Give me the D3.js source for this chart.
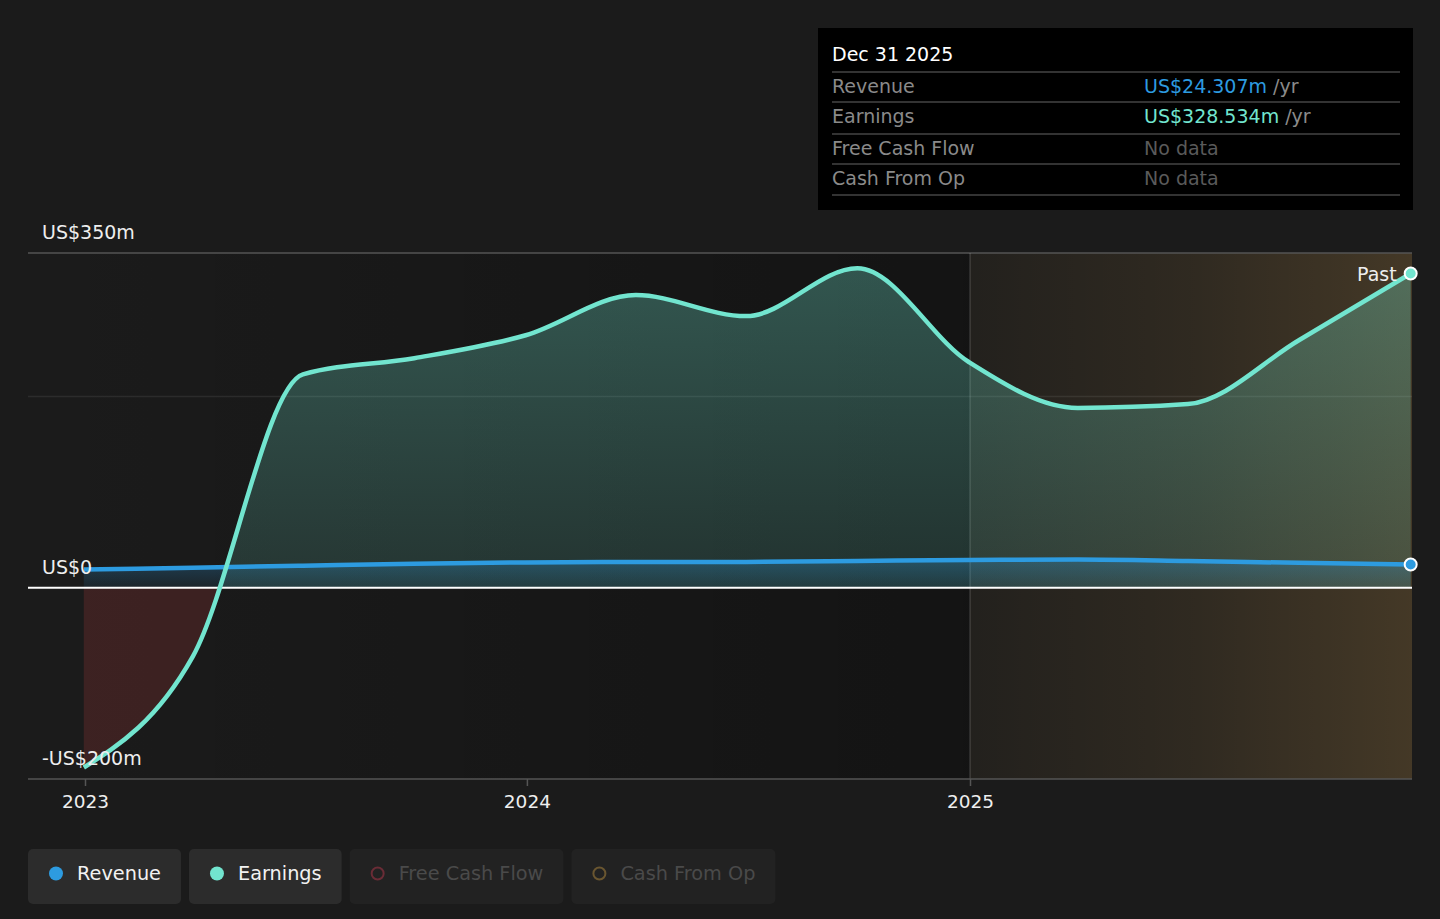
<!DOCTYPE html>
<html>
<head>
<meta charset="utf-8">
<script src="https://cdn.jsdelivr.net/npm/d3@7"></script>
<style>
  html, body { margin: 0; padding: 0; background: #1b1b1b; }
  svg { display: block; font-family: "DejaVu Sans", sans-serif; }
</style>
</head>
<body>
<svg id="chart" width="1440" height="919"></svg>
<script>
// quarterly figures, US$ millions
const dates = ["2022-12-31", "2023-03-31", "2023-06-30", "2023-09-30", "2023-12-31",
  "2024-03-31", "2024-06-30", "2024-09-30", "2024-12-31",
  "2025-03-31", "2025-06-30", "2025-09-30", "2025-12-31"];
const earnings = [-188, -72, 223, 240, 264, 306, 284, 334, 236, 188, 192, 259, 328.534];
const revenue = [19, 21, 23, 25, 26.5, 27, 27, 28, 29, 29.5, 28, 26, 24.307];
const yTicks = [350, 0, -200];
const yTickLabels = ["US$350m", "US$0", "-US$200m"];
const xTicks = ["2023-01-01", "2024-01-01", "2025-01-01"];
const tipRows = [
  {label: "Revenue", value: "US$24.307m", unit: " /yr", color: "#2d9be0"},
  {label: "Earnings", value: "US$328.534m", unit: " /yr", color: "#72e5cf"},
  {label: "Free Cash Flow", value: "No data", unit: "", color: "#5a5a5a"},
  {label: "Cash From Op", value: "No data", unit: "", color: "#5a5a5a"}
];
const legendItems = [
  {name: "Revenue", color: "#2d9be0", on: true},
  {name: "Earnings", color: "#72e5cf", on: true},
  {name: "Free Cash Flow", color: "#6a2c36", on: false},
  {name: "Cash From Op", color: "#6a5630", on: false}
];

const parse = d3.timeParse("%Y-%m-%d");
const data = dates.map((d, i) => ({date: parse(d), earn: earnings[i], rev: revenue[i]}));

const svg = d3.select("#chart");
const plotLeft = 28, plotRight = 1412, plotTop = 253, plotBottom = 779;

const x = d3.scaleTime()
  .domain([parse("2023-01-01"), parse("2025-01-01")])
  .range([85, 970]);
const y = d3.scaleLinear().domain([-200, 350]).range([plotBottom, plotTop]);
const pastX = x(parse("2025-01-01"));

const defs = svg.append("defs");
const lin = (id, x1, y1, x2, y2, stops) => {
  const g = defs.append("linearGradient").attr("id", id)
    .attr("gradientUnits", "userSpaceOnUse")
    .attr("x1", x1).attr("y1", y1).attr("x2", x2).attr("y2", y2);
  stops.forEach(s => g.append("stop").attr("offset", s[0])
    .attr("stop-color", s[1]).attr("stop-opacity", s[2]));
};
lin("bgLeft", plotLeft, 0, pastX, 0, [[0, "#000", 0], [1, "#000", 0.28]]);
lin("bgPast", pastX, 0, plotRight, 0, [[0, "#ffbe5a", 0.035], [0.5, "#ffbe5a", 0.09], [1, "#ffbe5a", 0.18]]);
lin("earnFill", 0, y(350), 0, y(0), [[0, "#72e5cf", 0.32], [1, "#72e5cf", 0.14]]);
lin("revFill", 0, y(30), 0, y(0), [[0, "#2d9be0", 0.3], [1, "#2d9be0", 0.08]]);

defs.append("clipPath").attr("id", "above")
  .append("rect").attr("x", plotLeft).attr("y", plotTop - 20)
  .attr("width", plotRight - plotLeft).attr("height", y(0) - plotTop + 20);
defs.append("clipPath").attr("id", "below")
  .append("rect").attr("x", plotLeft).attr("y", y(0))
  .attr("width", plotRight - plotLeft).attr("height", plotBottom - y(0));

// backgrounds
svg.append("rect").attr("x", plotLeft).attr("y", plotTop).attr("width", pastX - plotLeft)
  .attr("height", plotBottom - plotTop).attr("fill", "url(#bgLeft)");
svg.append("rect").attr("x", pastX).attr("y", plotTop).attr("width", plotRight - pastX)
  .attr("height", plotBottom - plotTop).attr("fill", "url(#bgPast)");

// grid
svg.append("line").attr("x1", plotLeft).attr("x2", plotRight).attr("y1", y(350)).attr("y2", y(350))
  .attr("stroke", "#555").attr("stroke-width", 1.5);
svg.append("line").attr("x1", plotLeft).attr("x2", plotRight).attr("y1", y(200)).attr("y2", y(200))
  .attr("stroke", "#fff").attr("stroke-opacity", 0.08).attr("stroke-width", 1.5);
svg.append("line").attr("x1", pastX).attr("x2", pastX).attr("y1", plotTop).attr("y2", plotBottom)
  .attr("stroke", "#fff").attr("stroke-opacity", 0.15).attr("stroke-width", 1.5);

// areas
const curve = d3.curveMonotoneX;
const earnArea = d3.area().curve(curve).x(d => x(d.date)).y0(y(0)).y1(d => y(d.earn));
svg.append("path").datum(data).attr("d", earnArea)
  .attr("clip-path", "url(#above)").attr("fill", "url(#earnFill)");
svg.append("path").datum(data).attr("d", earnArea)
  .attr("clip-path", "url(#below)").attr("fill", "#e64a4a").attr("fill-opacity", 0.17);
const revArea = d3.area().curve(curve).x(d => x(d.date)).y0(y(0)).y1(d => y(d.rev));
svg.append("path").datum(data).attr("d", revArea).attr("fill", "url(#revFill)");

// zero and bottom axis lines
svg.append("line").attr("x1", plotLeft).attr("x2", plotRight).attr("y1", y(0)).attr("y2", y(0))
  .attr("stroke", "#fff").attr("stroke-width", 2);
svg.append("line").attr("x1", plotLeft).attr("x2", plotRight).attr("y1", plotBottom).attr("y2", plotBottom)
  .attr("stroke", "#555").attr("stroke-width", 1.5);

// lines
const earnLine = d3.line().curve(curve).x(d => x(d.date)).y(d => y(d.earn));
const revLine = d3.line().curve(curve).x(d => x(d.date)).y(d => y(d.rev));
svg.append("path").datum(data).attr("d", revLine)
  .attr("fill", "none").attr("stroke", "#2d9be0").attr("stroke-width", 4.5);
svg.append("path").datum(data).attr("d", earnLine)
  .attr("fill", "none").attr("stroke", "#72e5cf").attr("stroke-width", 4.5);

// x axis
const xAxis = svg.append("g").attr("transform", `translate(0,${plotBottom})`)
  .call(d3.axisBottom(x).tickValues(xTicks.map(parse)).tickSize(7).tickFormat(d3.timeFormat("%Y")));
xAxis.select(".domain").remove();
xAxis.selectAll(".tick line").attr("stroke", "#555").attr("stroke-width", 1.5);
xAxis.selectAll(".tick text").attr("fill", "#eee").attr("font-size", 18.5)
  .attr("font-family", "DejaVu Sans").attr("dy", "1.05em");

// y labels
svg.selectAll(".ylab").data(yTicks).join("text").attr("class", "ylab")
  .attr("x", 42).attr("y", d => y(d) - 14)
  .attr("fill", "#eee").attr("font-size", 19)
  .text((d, i) => yTickLabels[i]);

// end markers
const last = data[data.length - 1];
svg.append("text").attr("x", x(last.date) - 14).attr("y", y(last.earn) + 7)
  .attr("text-anchor", "end").attr("fill", "#eee").attr("font-size", 19).text("Past");
[[last.earn, "#72e5cf"], [last.rev, "#2d9be0"]].forEach(([v, c]) => {
  svg.append("circle").attr("cx", x(last.date)).attr("cy", y(v)).attr("r", 6)
    .attr("fill", c).attr("stroke", "#fff").attr("stroke-width", 2);
});

// tooltip
const tip = svg.append("g").attr("transform", "translate(818,28)");
tip.append("rect").attr("width", 595).attr("height", 182).attr("fill", "#000");
tip.append("text").attr("x", 14).attr("y", 33).attr("fill", "#fff").attr("font-size", 19).text("Dec 31 2025");
const rowY = [44, 74, 106, 136, 167];
rowY.forEach(ry => tip.append("line").attr("x1", 14).attr("x2", 582).attr("y1", ry).attr("y2", ry)
  .attr("stroke", "#444").attr("stroke-width", 1.5));
tipRows.forEach((r, i) => {
  const ty = rowY[i] + 21;
  tip.append("text").attr("x", 14).attr("y", ty).attr("fill", "#8a8a8a").attr("font-size", 19).text(r.label);
  const t = tip.append("text").attr("x", 326).attr("y", ty).attr("font-size", 19);
  t.append("tspan").attr("fill", r.color).text(r.value);
  if (r.unit) t.append("tspan").attr("fill", "#8a8a8a").text(r.unit);
});

// legend
const legend = svg.append("g").attr("transform", "translate(28,849)");
let lx = 0;
legendItems.forEach(item => {
  const g = legend.append("g").attr("transform", `translate(${lx},0)`);
  const label = g.append("text").attr("x", 49).attr("y", 31).attr("font-size", 19.3)
    .attr("fill", item.on ? "#f2f2f2" : "#4a4a4a").text(item.name);
  const w = label.node().getComputedTextLength() + 49 + 20;
  g.insert("rect", "text").attr("width", w).attr("height", 55).attr("rx", 5)
    .attr("fill", item.on ? "#2c2c2c" : "#222");
  g.append("circle").attr("cx", 28).attr("cy", 24.5).attr("r", item.on ? 7 : 6)
    .attr("fill", item.on ? item.color : "none")
    .attr("stroke", item.color).attr("stroke-width", item.on ? 0 : 2);
  lx += w + 8;
});
</script>
</body>
</html>
